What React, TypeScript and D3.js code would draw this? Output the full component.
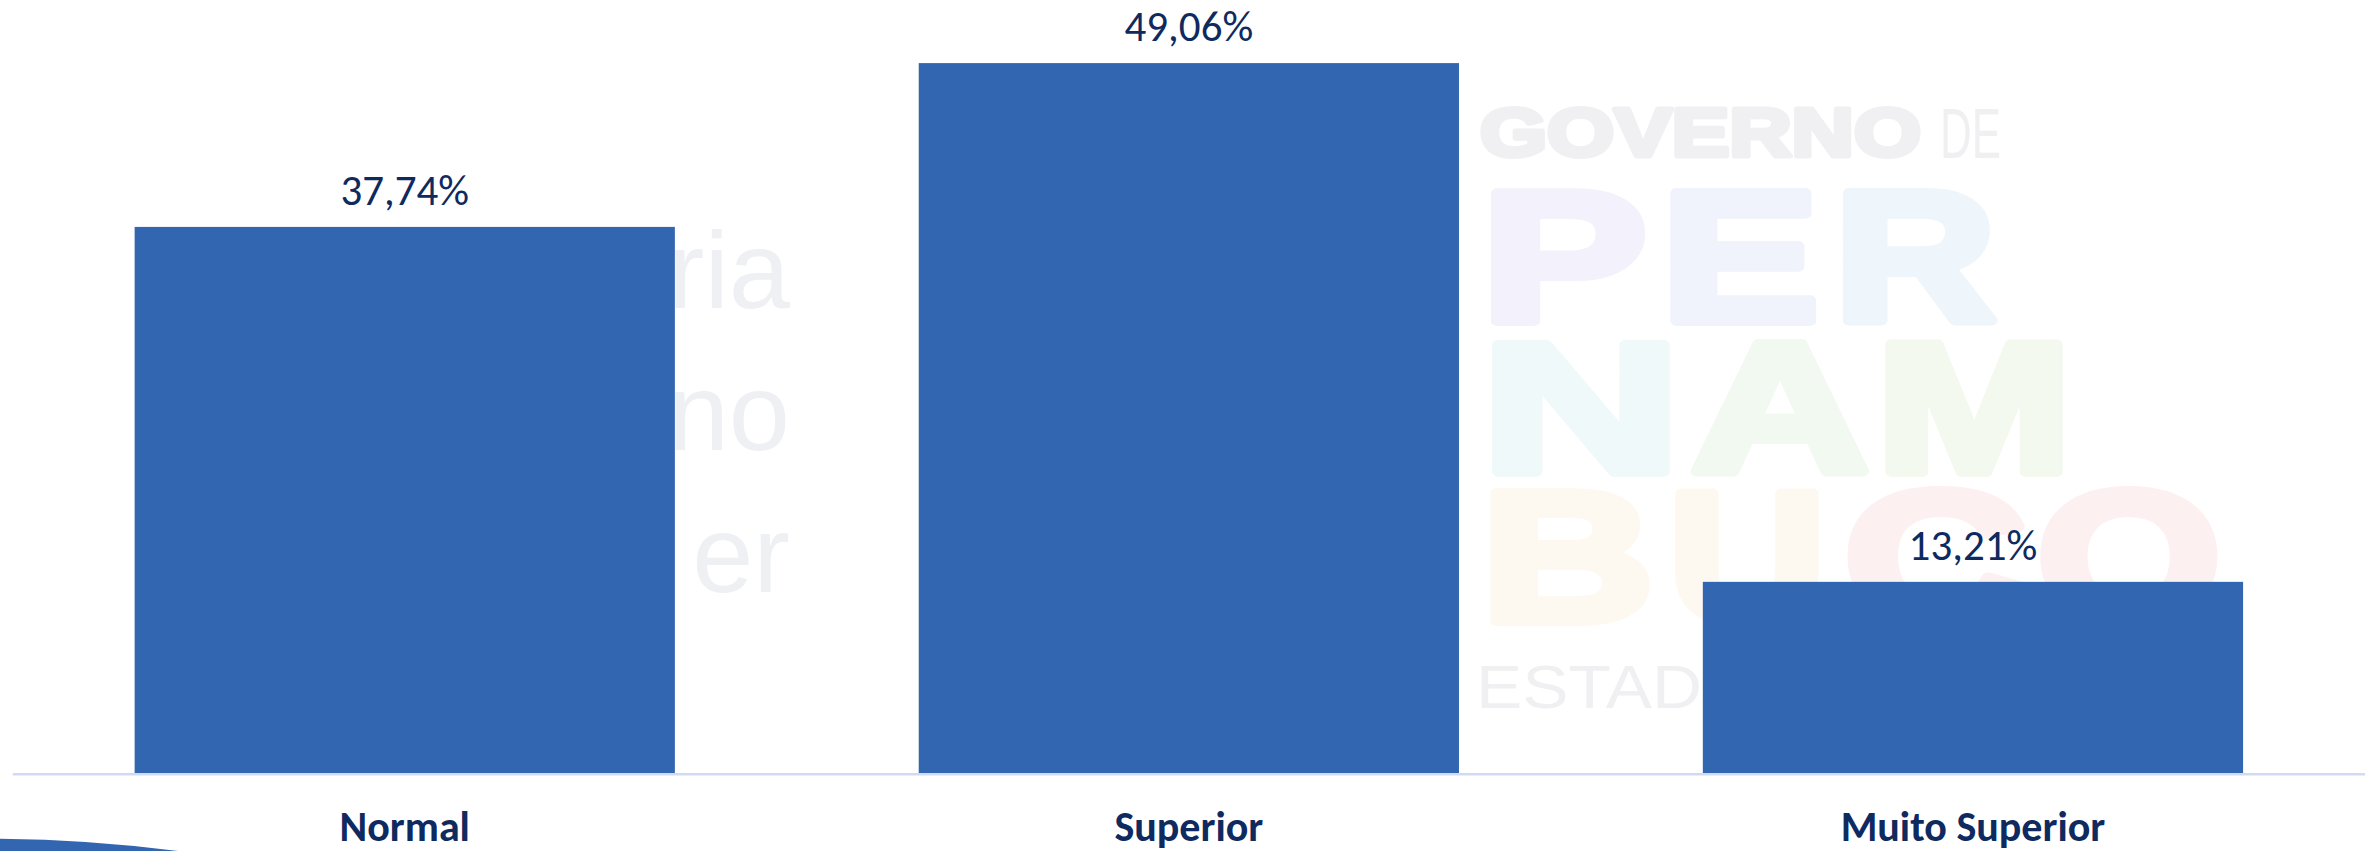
import React, { useEffect } from "react";
import * as d3 from "d3";

// ---- data ----
const categories: string[] = ["Normal", "Superior", "Muito Superior"];
const values: number[] = [37.74, 49.06, 13.21];

// watermark texts (background logo)
const wmLeftLines: string[] = ["ria", "no", "er"];
const wmGov: string[] = ["GOVERNO", "DE"];
const wmRows: string[][] = [
  ["P", "E", "R"],
  ["N", "A", "M"],
  ["B", "U", "C", "O"],
];
const wmBottom: string = "ESTADO";

const W = 2377;
const H = 851;

const BAR = "#3366B0";
const NAVY = "#0E2A5F";
const AXIS = "#D0DBF3";

const ptBR = d3.formatLocale({
  decimal: ",",
  thousands: ".",
  grouping: [3],
  currency: ["R$", ""],
});
const fmt = (v: number) => ptBR.format(".2f")(v) + "%";

// watermark geometry (decorative)
const rowLetterX: number[][] = [
  [1481, 1661, 1834],
  [1481, 1691, 1876],
  [1481, 1668, 1844, 2037],
];
const rowLetterW: number[][] = [
  [166, 158, 162],
  [200, 178, 196],
  [173, 158, 183, 184],
];
const rowBase: number[] = [321, 472, 621];
const rowColors: string[][] = [
  ["#f3f2fc", "#f0f3fc", "#eef5fb"],
  ["#eff9f9", "#f1f9f1", "#f3f9ef"],
  ["#fdf9f0", "#fdf9f0", "#fcf1f0", "#fcf1f0"],
];

export default function App() {
  useEffect(() => {
    document.body.style.margin = "0";
  }, []);

  const x = d3
    .scaleBand<string>()
    .domain(categories)
    .range([12.7, 2365])
    .paddingInner(0.311)
    .paddingOuter(0.1555);

  const y = d3.scaleLinear().domain([0, 50]).range([773, 49.5]);

  const swoosh = d3.path();
  swoosh.moveTo(0, 838.7);
  swoosh.quadraticCurveTo(90, 839.5, 178, 851);
  swoosh.lineTo(0, 851);
  swoosh.closePath();

  return (
    <svg
      width={W}
      height={H}
      viewBox={`0 0 ${W} ${H}`}
      style={{ display: "block", background: "#fff" }}
    >
      {/* background watermark */}
      <g>
        {wmLeftLines.map((t, i) => (
          <text
            key={t}
            x={790}
            y={308 + i * 142}
            textAnchor="end"
            fontFamily="'Liberation Sans', Arial, sans-serif"
            fontWeight={400}
            fontSize={110}
            fill="#eef0f3"
          >
            {t}
          </text>
        ))}
        <text
          x={1480}
          y={156}
          textLength={441}
          lengthAdjust="spacingAndGlyphs"
          fontFamily="'Liberation Sans', Arial, sans-serif"
          fontWeight={900}
          fontSize={68}
          fill="#f0f0f2"
          stroke="#f0f0f2"
          strokeWidth={5}
          strokeLinejoin="round"
        >
          {wmGov[0]}
        </text>
        <text
          x={1940}
          y={158}
          textLength={61}
          lengthAdjust="spacingAndGlyphs"
          fontFamily="'Liberation Sans', Arial, sans-serif"
          fontWeight={400}
          fontSize={71}
          fill="#f0f0f2"
        >
          {wmGov[1]}
        </text>
        {wmRows.map((row, r) =>
          row.map((ch, c) => (
            <text
              key={`${r}-${c}`}
              x={rowLetterX[r][c]}
              y={rowBase[r]}
              textLength={rowLetterW[r][c]}
              lengthAdjust="spacingAndGlyphs"
              fontFamily="'Liberation Sans', Arial, sans-serif"
              fontWeight={900}
              fontSize={185}
              fill={rowColors[r][c]}
              stroke={rowColors[r][c]}
              strokeWidth={10}
              strokeLinejoin="round"
            >
              {ch}
            </text>
          ))
        )}
        <text
          x={1476}
          y={708}
          textLength={280}
          lengthAdjust="spacingAndGlyphs"
          fontFamily="'Liberation Sans', Arial, sans-serif"
          fontWeight={400}
          fontSize={61}
          fill="#f0f0f2"
        >
          {wmBottom}
        </text>
      </g>

      {/* bars */}
      {categories.map((c, i) => (
        <rect
          key={c}
          x={x(c)}
          y={y(values[i])}
          width={x.bandwidth()}
          height={y(0) - y(values[i])}
          fill={BAR}
        />
      ))}

      {/* axis line */}
      <line
        x1={x.range()[0]}
        x2={x.range()[1]}
        y1={774.2}
        y2={774.2}
        stroke={AXIS}
        strokeWidth={2.5}
      />

      {/* value labels */}
      {categories.map((c, i) => (
        <text
          key={`v-${c}`}
          x={(x(c) as number) + x.bandwidth() / 2}
          y={y(values[i]) - 22}
          textAnchor="middle"
          fontFamily="Carlito, Calibri, 'Open Sans', sans-serif"
          fontSize={43}
          fill={NAVY}
        >
          {fmt(values[i])}
        </text>
      ))}

      {/* category labels */}
      {categories.map((c) => (
        <text
          key={`c-${c}`}
          x={(x(c) as number) + x.bandwidth() / 2}
          y={841}
          textAnchor="middle"
          fontFamily="Carlito, Calibri, 'Open Sans', sans-serif"
          fontWeight={700}
          fontSize={42}
          fill={NAVY}
        >
          {c}
        </text>
      ))}

      {/* decorative swoosh bottom-left */}
      <path d={swoosh.toString()} fill={BAR} />
    </svg>
  );
}
